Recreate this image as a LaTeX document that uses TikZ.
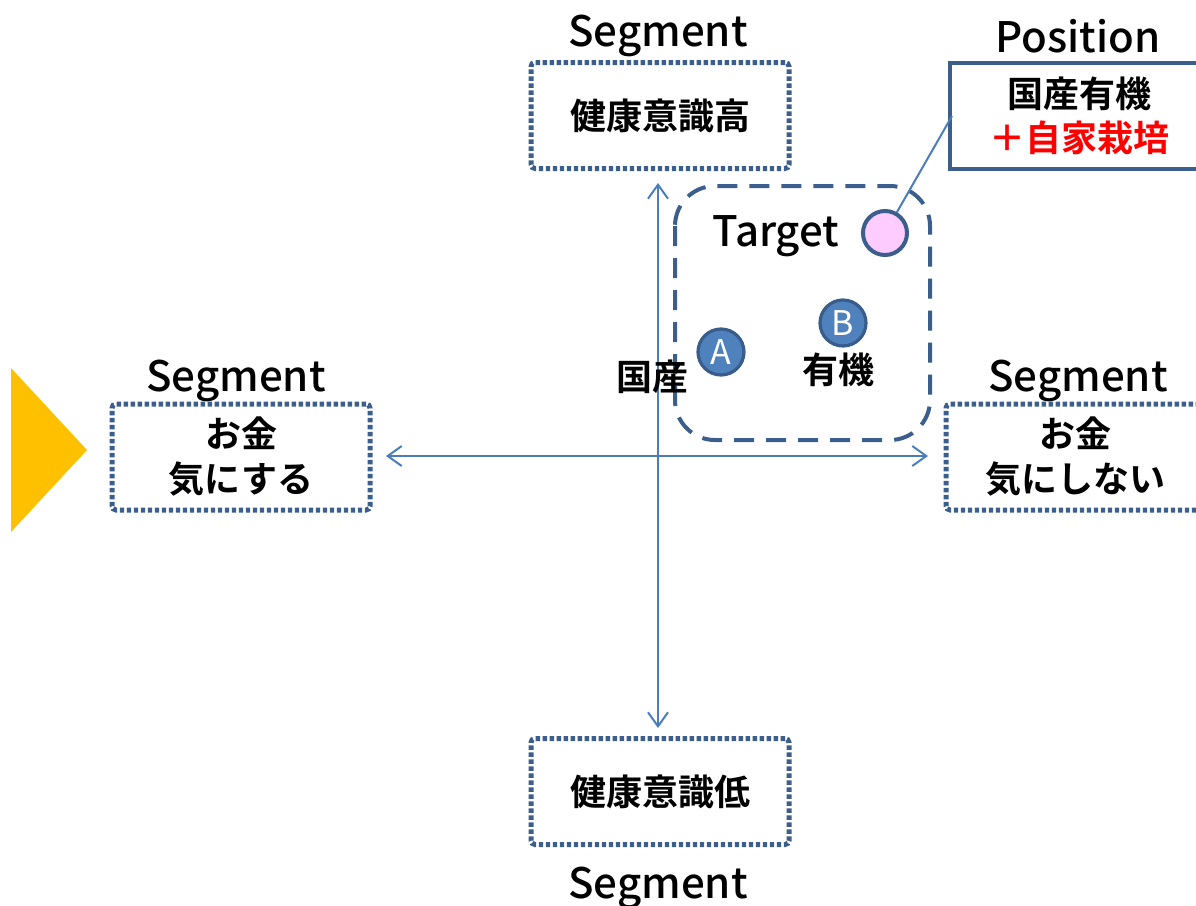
\documentclass[tikz,border=0pt]{standalone}
\usepackage{fontspec}
\setmainfont{Noto Sans CJK JP}[BoldFont={Noto Sans CJK JP Bold}]
\newfontfamily\medfont{Noto Sans CJK JP Medium}
\usetikzlibrary{arrows.meta}
\definecolor{dotblue}{HTML}{3B5E8C}
\definecolor{axblue}{HTML}{4A7EBB}
\definecolor{cfill}{HTML}{4F81BD}
\definecolor{cline}{HTML}{385D8A}
\definecolor{pinkf}{HTML}{FFCCFF}
\definecolor{gold}{HTML}{FFC000}
\begin{document}
\begin{tikzpicture}[x=0.5pt,y=-0.5pt,
  segbox/.style={draw=dotblue, line width=2.5pt, dash pattern=on 2.2pt off 1.3pt,
    rounded corners=2pt, minimum width=129pt, minimum height=53pt, align=center,
    font=\fontsize{18}{22.5}\selectfont\bfseries, inner sep=0pt},
  seglabel/.style={font=\fontsize{21}{24}\selectfont\medfont, inner sep=0pt},
  jlabel/.style={font=\fontsize{18}{22}\selectfont\bfseries, inner sep=0pt},
  axis/.style={draw=axblue, line width=1pt, {Straight Barb[length=7pt,width=10pt]}-{Straight Barb[length=7pt,width=10pt]}},
  letterdot/.style={circle, fill=cfill, draw=cline, line width=1.6pt, minimum size=23pt, inner sep=0pt, text=white, font=\fontsize{17}{17}\selectfont},
]
\useasboundingbox (0,0) rectangle (1196,906);
\clip (0,0) rectangle (1196,906);

% yellow triangle
\fill[gold] (11,368) -- (87,450) -- (11,532) -- cycle;

% segment boxes
\node[segbox] (top) at (660,115.5) {健康意識高};
\node[segbox] (bottom) at (660,791.5) {健康意識低};
\node[segbox] (left) at (241,457) {お金\\気にする};
\node[segbox] (right) at (1075,457) {お金\\気にしない};

% position box
\node[draw=dotblue, line width=2pt, minimum width=129pt, minimum height=53pt, align=center,
  font=\fontsize{18}{22}\selectfont\bfseries, inner sep=0pt] (pos) at (1079,115.5)
  {国産有機\\{\color{red}＋自家栽培}};

% labels
\node[seglabel] (ltop) at (658,36) {Segment};
\node[seglabel] (lpos) at (1078,36) {Position};
\node[seglabel] (lleft) at (236,381) {Segment};
\node[seglabel] (lright) at (1078,381) {Segment};
\node[seglabel] (lbottom) at (658,888) {Segment};

% target region
\draw[draw=dotblue, line width=2pt, dash pattern=on 10pt off 6pt, rounded corners=20pt]
  (675,186) rectangle (930,440);
\node[seglabel] (target) at (776,236) {Target};

% axes
\coordinate (vt) at (658,183);
\coordinate (vb) at (658,728);
\coordinate (hl) at (386,456);
\coordinate (hr) at (928,456);
\draw[axis] (vt) -- (vb);
\draw[axis] (hl) -- (hr);

% points
\node[letterdot] (A) at (721,352) {A};
\node[letterdot] (B) at (843,323) {B};
\node[jlabel] (kokusan) at (652,377) {国産};
\node[jlabel] (yuki) at (838,370) {有機};

\node[circle, fill=pinkf, draw=dotblue, line width=2pt, minimum size=22pt, inner sep=0pt] (pink) at (885,233) {};
\coordinate (pj) at (952,116);
\draw[axblue, line width=1pt] (pink) -- (pj);
\end{tikzpicture}
\end{document}
